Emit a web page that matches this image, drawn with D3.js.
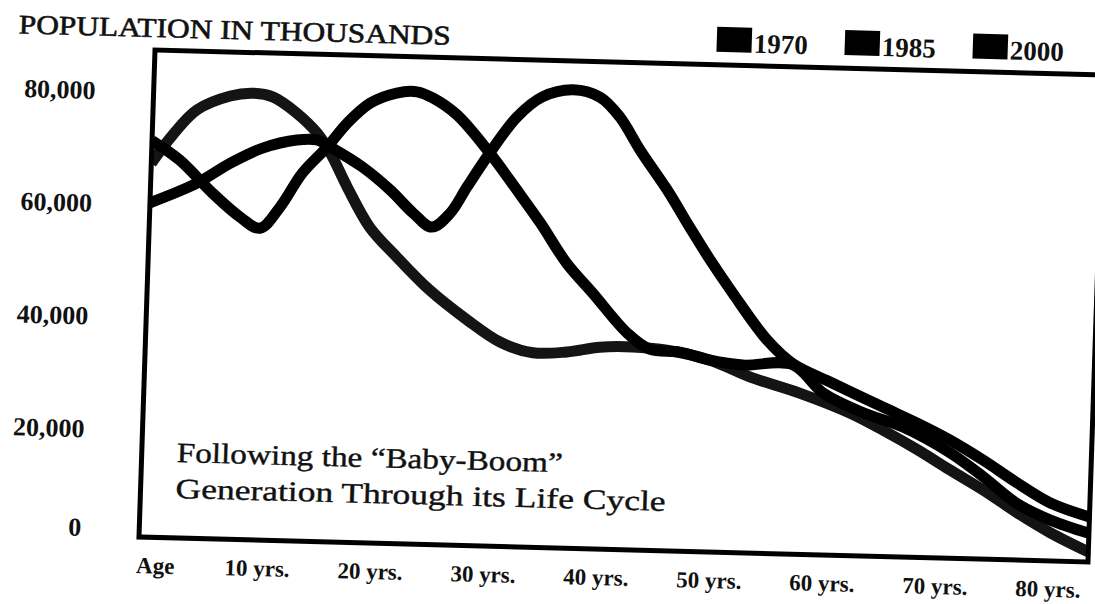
<!DOCTYPE html>
<html><head><meta charset="utf-8">
<script src="https://cdn.jsdelivr.net/npm/d3@7"></script>
<style>html,body{margin:0;padding:0;background:#fff;} svg{display:block;}</style>
</head><body>
<svg id="chart" width="1095" height="604"></svg>
<script>
// ---- data (population in thousands by age) ----
const seriesNames = ["1970", "1985", "2000"];

const pop1970 = [
  [0, 67000], [1.8, 72100], [3.9, 76700], [6.8, 79300], [8.8, 79900], [10.6, 79300],
  [12.7, 76600], [14.6, 73100], [15.8, 69700], [17.4, 63700], [19.5, 56700], [22.0, 51500],
  [25.0, 45800], [28.4, 40700], [31.4, 36900], [34.3, 35200], [37.3, 35500], [40.2, 36500],
  [43.1, 36700], [46.0, 36300], [50.0, 34700], [53.6, 31900], [58.0, 29300], [62.5, 26000],
  [65.5, 23100], [68.6, 19800], [71.5, 16400], [74.5, 13000], [77.6, 9100], [80.6, 5700],
  [84, 2500]
];

const pop1985 = [
  [0, 71000], [2.5, 67700], [5.5, 62000], [8.0, 57900], [9.8, 56000], [11.5, 59800],
  [13.4, 66000], [15.5, 70700], [17.2, 75000], [19.2, 78700], [21.5, 80600], [23.3, 80900],
  [24.7, 79900], [26.9, 77000], [29.9, 70400], [32.4, 64000], [34.6, 58200], [37.0, 51300],
  [39.4, 46100], [42.6, 39100], [44.6, 36400], [47.3, 36000], [50.0, 34700], [52.9, 34000],
  [57.3, 34300], [60.1, 29400], [63.7, 26100], [67.2, 23800], [71.5, 19400], [74.5, 15300],
  [77.5, 10800], [80.5, 8000], [84, 5800]
];

const pop2000 = [
  [0, 60000], [4.1, 63700], [7.0, 67400], [9.8, 70200], [12.8, 71800], [14.6, 71900],
  [15.8, 70700], [18.7, 67300], [21.2, 63400], [23.3, 59400], [25.0, 57000], [26.6, 59600],
  [28.0, 64300], [29.9, 70400], [32.2, 76900], [34.4, 80600], [37.1, 82000], [39.5, 80800],
  [41.3, 77400], [43.2, 71600], [45.7, 64700], [47.8, 58200], [49.7, 52500], [51.8, 46700],
  [55.0, 38500], [57.3, 34500], [60.9, 31200], [65.4, 27200], [68.5, 24500], [71.4, 21700],
  [74.4, 18300], [77.5, 14400], [80.5, 11000], [84, 8700]
];

const yTickValues = [0, 20000, 40000, 60000, 80000];
const xTickValues = [0, 10, 20, 30, 40, 50, 60, 70, 80];
const xTickLabels = ["Age", "10 yrs.", "20 yrs.", "30 yrs.", "40 yrs.", "50 yrs.", "60 yrs.", "70 yrs.", "80 yrs."];
const titleText = "POPULATION IN THOUSANDS";
const noteLines = ["Following the \u201CBaby-Boom\u201D", "Generation Through its Life Cycle"];

// ---- drawing ----
const W = 949, H = 487;
const SERIF = "'Liberation Serif', 'Times New Roman', serif";
const svg = d3.select("#chart");
// the scanned page is slightly skewed: one affine transform for everything
const root = svg.append("g").attr("transform", "matrix(1,0.0263,-0.0329,1,155,50)");

const x = d3.scaleLinear().domain([0, 84]).range([0, W]);
const y = d3.scaleLinear().domain([0, 80000]).range([491, 40]);

svg.append("defs").append("clipPath").attr("id", "plotclip")
  .append("rect").attr("x", 0).attr("y", 0).attr("width", W).attr("height", H);

const line = d3.line()
  .x(d => x(d[0]))
  .y(d => y(d[1]))
  .curve(d3.curveCatmullRom.alpha(0.5));

const series = [pop1970, pop1985, pop2000];
root.append("g").attr("clip-path", "url(#plotclip)")
  .selectAll("path").data(series).join("path")
  .attr("d", line)
  .attr("fill", "none")
  .attr("stroke", (d, i) => i === 0 ? "#141414" : "#000")
  .attr("stroke-width", 11)
  .attr("stroke-linejoin", "round");

// frame
root.append("rect").attr("x", 0).attr("y", 0).attr("width", W).attr("height", H)
  .attr("fill", "none").attr("stroke", "#000").attr("stroke-width", 5);

// title
root.append("text").attr("x", -137).attr("y", -13)
  .attr("font-family", SERIF).attr("font-size", 27)
  .attr("textLength", 432).attr("lengthAdjust", "spacingAndGlyphs")
  .attr("fill", "#111").attr("stroke", "#111").attr("stroke-width", 0.6)
  .text(titleText);

// y tick labels
const fmt = d3.format(",");
root.append("g").selectAll("text").data(yTickValues).join("text")
  .attr("x", -58).attr("y", d => y(d))
  .attr("dy", d => d === 0 ? -3.5 : 10.5)
  .attr("text-anchor", "end")
  .attr("font-family", SERIF).attr("font-weight", "bold").attr("font-size", 26)
  .attr("fill", "#111")
  .text(d => fmt(d));

// x tick labels
root.append("g").selectAll("text").data(xTickValues).join("text")
  .attr("x", (d, i) => i === 0 ? x(d) - 2 : x(d) + 6)
  .attr("y", 523)
  .attr("text-anchor", (d, i) => i === 0 ? "start" : "middle")
  .attr("font-family", SERIF).attr("font-weight", "bold").attr("font-size", 23)
  .attr("fill", "#111")
  .text((d, i) => xTickLabels[i]);

// legend
const lg = root.append("g").selectAll("g").data(seriesNames).join("g")
  .attr("transform", (d, i) => `translate(${561 + i * 128},-38)`);
lg.append("rect").attr("width", 35).attr("height", 25).attr("fill", "#000");
lg.append("text").attr("x", 37).attr("y", 25)
  .attr("font-family", SERIF).attr("font-weight", "bold").attr("font-size", 27)
  .attr("fill", "#111").text(d => d);

// note inside plot
const noteLen = [386, 490];
root.append("g").selectAll("text").data(noteLines).join("text")
  .attr("x", 35).attr("y", (d, i) => 411 + i * 36)
  .attr("font-family", SERIF).attr("font-size", 28)
  .attr("textLength", (d, i) => noteLen[i]).attr("lengthAdjust", "spacingAndGlyphs")
  .attr("fill", "#111").attr("stroke", "#111").attr("stroke-width", 0.4)
  .text(d => d);
</script>
</body></html>
